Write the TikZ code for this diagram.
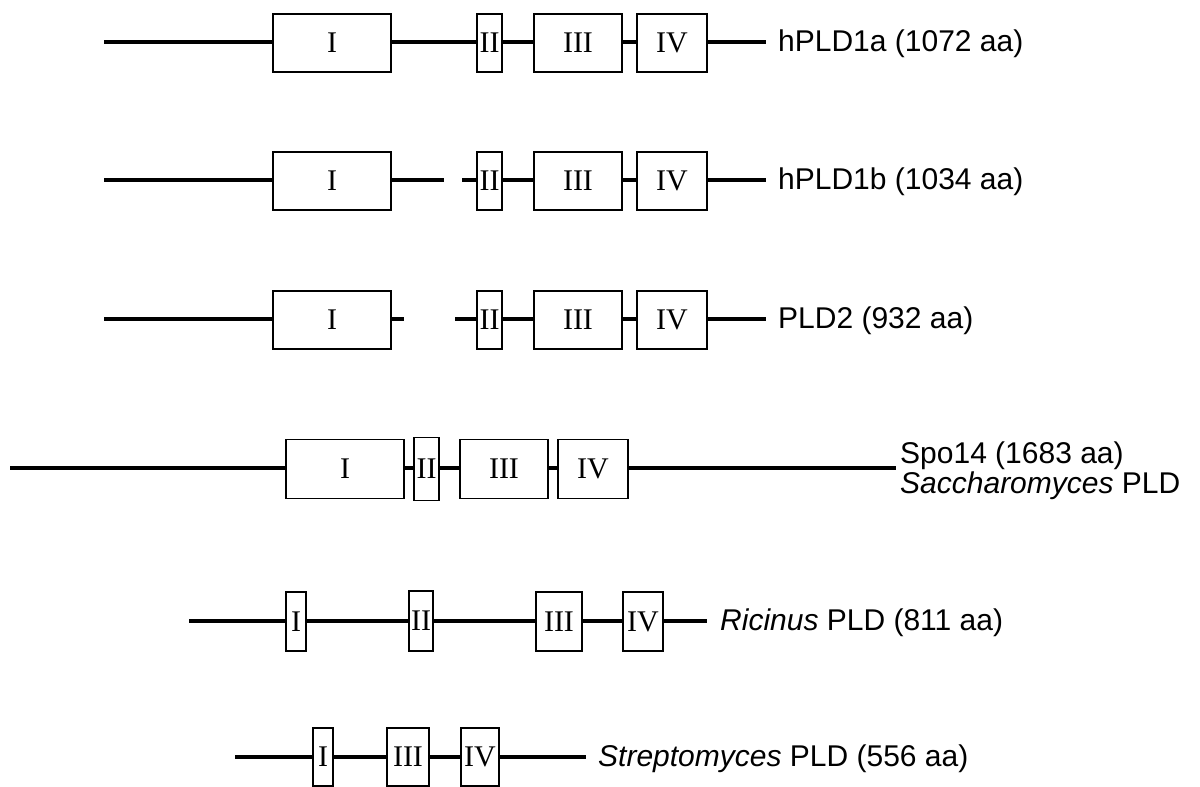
\documentclass[tikz,border=0pt]{standalone}
\usepackage{fontspec}
\setmainfont{Liberation Serif}
\newfontfamily\labfont{Liberation Sans}
\begin{document}
\begin{tikzpicture}[x=1pt,y=-1pt,
  dom/.style={draw=black,line width=1.8pt,fill=white,inner sep=0pt,minimum height=58pt,
    font=\fontsize{30}{30}\selectfont},
  chain/.style={line width=4.2pt},
  lab/.style={anchor=west,inner sep=0pt,font=\labfont\fontsize{30}{32}\selectfont}]
\useasboundingbox (0,0) rectangle (1200,787);
% Row 1
\node[dom,minimum width=118pt] (a1) at (332,43) {I};
\node[dom,minimum width=25pt] (a2) at (489.5,43) {II};
\node[dom,minimum width=88pt] (a3) at (578,43) {III};
\node[dom,minimum width=70pt] (a4) at (672,43) {IV};
\coordinate (as) at (104,42); \coordinate (ae) at (766,42);
\draw[chain] (as) -- (as -| a1.west) (a1.east |- as) -- (a2.west |- as) (a2.east |- as) -- (a3.west |- as)
  (a3.east |- as) -- (a4.west |- as) (a4.east |- as) -- (ae);
\node[lab] (al) at (778,44) {hPLD1a (1072 aa)};
% Row 2
\node[dom,minimum width=118pt] (b1) at (332,181) {I};
\node[dom,minimum width=25pt] (b2) at (489.5,181) {II};
\node[dom,minimum width=88pt] (b3) at (578,181) {III};
\node[dom,minimum width=70pt] (b4) at (672,181) {IV};
\coordinate (bs) at (104,180); \coordinate (be) at (766,180);
\coordinate (bg1) at (444,180); \coordinate (bg2) at (462,180);
\draw[chain] (bs) -- (bs -| b1.west) (b1.east |- bs) -- (bg1) (bg2) -- (b2.west |- bs) (b2.east |- bs) -- (b3.west |- bs)
  (b3.east |- bs) -- (b4.west |- bs) (b4.east |- bs) -- (be);
\node[lab] (bl) at (778,182) {hPLD1b (1034 aa)};
% Row 3
\node[dom,minimum width=118pt] (c1) at (332,320) {I};
\node[dom,minimum width=25pt] (c2) at (489.5,320) {II};
\node[dom,minimum width=88pt] (c3) at (578,320) {III};
\node[dom,minimum width=70pt] (c4) at (672,320) {IV};
\coordinate (cs) at (104,319); \coordinate (ce) at (766,319);
\coordinate (cg1) at (404,319); \coordinate (cg2) at (455,319);
\draw[chain] (cs) -- (cs -| c1.west) (c1.east |- cs) -- (cg1) (cg2) -- (c2.west |- cs) (c2.east |- cs) -- (c3.west |- cs)
  (c3.east |- cs) -- (c4.west |- cs) (c4.east |- cs) -- (ce);
\node[lab] (cl) at (778,321) {PLD2 (932 aa)};
% Row 4
\node[dom,minimum width=118pt,minimum height=59pt] (d1) at (345,469) {I};
\node[dom,minimum width=25pt,minimum height=63pt] (d2) at (426.5,469) {II};
\node[dom,minimum width=88pt,minimum height=59pt] (d3) at (504,469) {III};
\node[dom,minimum width=70pt,minimum height=59pt] (d4) at (593,469) {IV};
\coordinate (ds) at (10,468); \coordinate (de) at (896,468);
\draw[chain] (ds) -- (ds -| d1.west) (d1.east |- ds) -- (d2.west |- ds) (d2.east |- ds) -- (d3.west |- ds)
  (d3.east |- ds) -- (d4.west |- ds) (d4.east |- ds) -- (de);
\node[lab] (dl1) at (900,456) {Spo14 (1683 aa)};
\node[lab] (dl2) at (900,486) {\itshape Saccharomyces\/\upshape{} PLD};
% Row 5
\node[dom,minimum width=20pt,minimum height=59pt] (e1) at (296,621.5) {I};
\node[dom,minimum width=24pt,minimum height=60pt] (e2) at (421,621) {II};
\node[dom,minimum width=46pt,minimum height=59pt] (e3) at (559,621.5) {III};
\node[dom,minimum width=40pt,minimum height=59pt] (e4) at (643,621.5) {IV};
\coordinate (es) at (189,621); \coordinate (ee) at (707,621);
\draw[chain] (es) -- (es -| e1.west) (e1.east |- es) -- (e2.west |- es) (e2.east |- es) -- (e3.west |- es)
  (e3.east |- es) -- (e4.west |- es) (e4.east |- es) -- (ee);
\node[lab] (el) at (720,623) {\itshape Ricinus\/\upshape{} PLD (811 aa)};
% Row 6
\node[dom,minimum width=20pt] (f1) at (323,757) {I};
\node[dom,minimum width=42pt] (f3) at (408,757) {III};
\node[dom,minimum width=38pt] (f4) at (480,757) {IV};
\coordinate (fs) at (235,757); \coordinate (fe) at (586,757);
\draw[chain] (fs) -- (fs -| f1.west) (f1.east |- fs) -- (f3.west |- fs)
  (f3.east |- fs) -- (f4.west |- fs) (f4.east |- fs) -- (fe);
\node[lab] (fl) at (598,759) {\itshape Streptomyces\/\upshape{} PLD (556 aa)};
\end{tikzpicture}
\end{document}
